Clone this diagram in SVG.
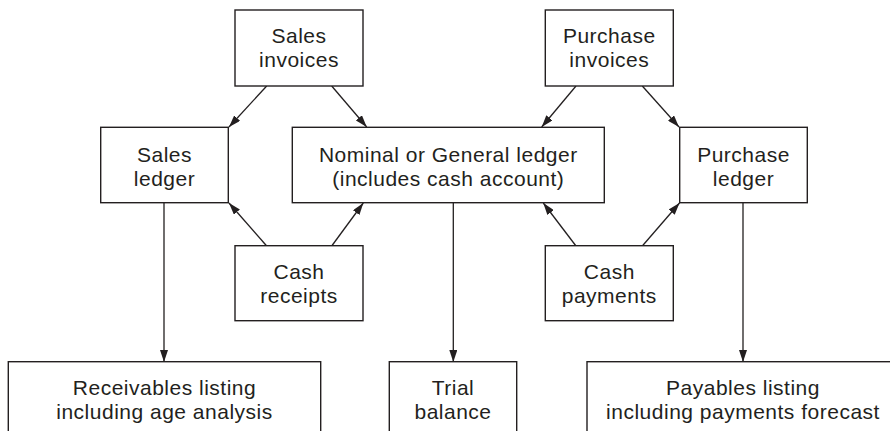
<svg xmlns="http://www.w3.org/2000/svg" width="890" height="431" viewBox="0 0 890 431">
<style>
.box{fill:#fff;stroke:#231f20;stroke-width:1.4}
.t{font-family:"Liberation Sans",Arial,sans-serif;font-size:21px;letter-spacing:0.5px;fill:#231f20;text-anchor:middle}
.c{stroke:#231f20;stroke-width:1.3;fill:none;marker-end:url(#ah)}
</style>
<defs>
<marker id="ah" viewBox="0 0 12 8" refX="12" refY="4" markerWidth="12" markerHeight="8" markerUnits="userSpaceOnUse" orient="auto">
<path d="M0,0 L12,4 L0,8 Z" fill="#231f20"/>
</marker>
</defs>
<rect width="890" height="431" fill="#fff"/>
<g id="connectors">
<line class="c" x1="266.7" y1="86" x2="229" y2="127"/>
<line class="c" x1="331.7" y1="86" x2="366.7" y2="127"/>
<line class="c" x1="576" y1="86" x2="541.7" y2="127"/>
<line class="c" x1="642.3" y1="86" x2="679" y2="127"/>
<line class="c" x1="164" y1="203" x2="164" y2="362"/>
<line class="c" x1="453.3" y1="203" x2="453.3" y2="362"/>
<line class="c" x1="743" y1="203" x2="743" y2="362"/>
<line class="c" x1="266.7" y1="246" x2="229" y2="203"/>
<line class="c" x1="331.7" y1="246" x2="363.3" y2="203"/>
<line class="c" x1="576" y1="246" x2="543.3" y2="203"/>
<line class="c" x1="642.3" y1="246" x2="679.5" y2="203"/>
</g>
<g id="sales-invoices">
<rect class="box" x="235" y="10" width="128" height="76"/>
<text class="t" x="299" y="43">Sales</text>
<text class="t" x="299" y="67">invoices</text>
</g>
<g id="purchase-invoices">
<rect class="box" x="545.3" y="10" width="128" height="76"/>
<text class="t" x="609.3" y="43">Purchase</text>
<text class="t" x="609.3" y="67">invoices</text>
</g>
<g id="sales-ledger">
<rect class="box" x="100.7" y="127.3" width="127.6" height="75.4"/>
<text class="t" x="164.5" y="161.5">Sales</text>
<text class="t" x="164.5" y="185.5">ledger</text>
</g>
<g id="nominal-ledger">
<rect class="box" x="292.3" y="127.3" width="312" height="75.4"/>
<text class="t" x="448.3" y="161.5">Nominal or General ledger</text>
<text class="t" x="448.3" y="185.5">(includes cash account)</text>
</g>
<g id="purchase-ledger">
<rect class="box" x="679.7" y="127.3" width="127.6" height="75.4"/>
<text class="t" x="743.5" y="161.5">Purchase</text>
<text class="t" x="743.5" y="185.5">ledger</text>
</g>
<g id="cash-receipts">
<rect class="box" x="235" y="245.7" width="128" height="75"/>
<text class="t" x="299" y="279">Cash</text>
<text class="t" x="299" y="302.5">receipts</text>
</g>
<g id="cash-payments">
<rect class="box" x="545.3" y="245.7" width="128" height="75"/>
<text class="t" x="609.3" y="279">Cash</text>
<text class="t" x="609.3" y="302.5">payments</text>
</g>
<g id="receivables-listing">
<rect class="box" x="8.3" y="361.7" width="312.4" height="80"/>
<text class="t" x="164.5" y="395">Receivables listing</text>
<text class="t" x="164.5" y="419">including age analysis</text>
</g>
<g id="trial-balance">
<rect class="box" x="389.3" y="361.7" width="127.4" height="80"/>
<text class="t" x="453" y="395">Trial</text>
<text class="t" x="453" y="419">balance</text>
</g>
<g id="payables-listing">
<rect class="box" x="587" y="361.7" width="320" height="80"/>
<text class="t" x="743" y="395">Payables listing</text>
<text class="t" x="743" y="419">including payments forecast</text>
</g>
</svg>
